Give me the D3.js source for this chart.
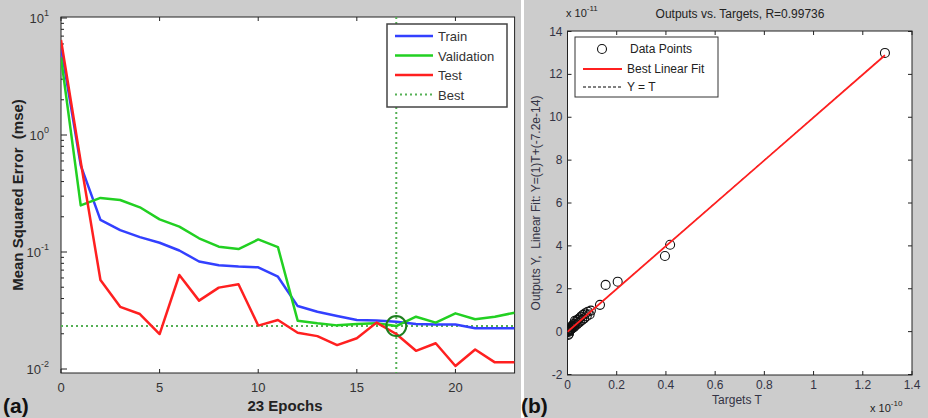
<!DOCTYPE html>
<html><head><meta charset="utf-8">
<script src="https://cdn.jsdelivr.net/npm/d3@7"></script>
<style>body{margin:0;background:#fff}svg{display:block}text{font-family:Arial,"Liberation Sans",sans-serif;white-space:pre}</style>
</head><body><svg id="c" width="928" height="418"></svg>
<script>
// ---------- Panel (a): performance ----------
const epochs = d3.range(0, 24);
const trainMSE = [5.65,0.55,0.188,0.154,0.134,0.12,0.103,0.083,0.077,0.075,0.074,0.0615,0.0345,0.0309,0.0284,0.0262,0.026,0.0254,0.0243,0.024,0.024,0.0223,0.0223,0.0223];
const valMSE   = [4.6,0.25,0.29,0.278,0.241,0.19,0.165,0.131,0.111,0.106,0.128,0.11,0.0259,0.0246,0.0236,0.0243,0.0246,0.0233,0.028,0.0249,0.0299,0.0266,0.028,0.0303];
const testMSE  = [6.5,0.59,0.0577,0.034,0.0295,0.0199,0.0636,0.0384,0.0496,0.053,0.0235,0.0262,0.0204,0.0191,0.016,0.0183,0.0249,0.0199,0.0143,0.0166,0.0106,0.0147,0.0114,0.0114];
const bestEpoch = 17, bestValue = 0.0233;
const perfXTicks = [0,5,10,15,20];
const perfYTicks = [10,1,0.1,0.01];
const perfSeries = ["Train","Validation","Test","Best"];

// ---------- Panel (b): regression ----------
// targets in units of 1e-10, outputs in units of 1e-11
const targets = [0,0.002,0.003,0.004,0.005,0.006,0.007,0.008,0.010,0.011,0.013,0.015,0.016,0.018,0.020,0.022,0.025,0.027,0.030,0.032,0.035,0.038,0.040,0.045,0.048,0.052,0.055,0.060,0.063,0.068,0.072,0.078,0.083,0.090,0.095,0.132,0.155,0.204,0.396,0.417,1.29];
const outputs = [0,0.05,-0.15,-0.02,0.08,-0.1,0.03,0.12,0.06,0.15,0.10,0.22,0.12,0.20,0.28,0.18,0.35,0.22,0.50,0.30,0.45,0.33,0.55,0.40,0.62,0.48,0.70,0.55,0.78,0.62,0.85,0.72,0.93,0.80,0.98,1.25,2.18,2.33,3.53,4.05,13.0];
const fitSlope = 1, fitIntercept = -7.2e-14;
const regXTicks = [0,0.2,0.4,0.6,0.8,1,1.2,1.4];
const regYTicks = [-2,0,2,4,6,8,10,12,14];
const regLegend = ["Data Points","Best Linear Fit","Y = T"];

const svg = d3.select("#c");
const GRAY = "#cccccc";
svg.append("rect").attr("x",0).attr("y",0).attr("width",521).attr("height",418).attr("fill",GRAY);
svg.append("rect").attr("x",524).attr("y",0).attr("width",404).attr("height",418).attr("fill",GRAY);

// ===== Panel a =====
const ax = {l:61, r:514.6, t:17, b:373};
const x1 = d3.scaleLinear().domain([0,23]).range([ax.l, ax.r]);
const y1b = d3.scaleLog().domain([0.01,10]).range([369,18]);
const yA = v => y1b(v);
const gA = svg.append("g");
gA.append("rect").attr("x",ax.l).attr("y",ax.t).attr("width",ax.r-ax.l).attr("height",ax.b-ax.t).attr("fill","#fff");
svg.append("clipPath").attr("id","clipA").append("rect").attr("x",ax.l).attr("y",ax.t).attr("width",ax.r-ax.l).attr("height",ax.b-ax.t);

perfXTicks.forEach(t=>{
  gA.append("line").attr("x1",x1(t)).attr("x2",x1(t)).attr("y1",ax.b).attr("y2",ax.b-4).attr("stroke","#222");
  gA.append("line").attr("x1",x1(t)).attr("x2",x1(t)).attr("y1",ax.t).attr("y2",ax.t+4).attr("stroke","#222");
  gA.append("text").attr("x",x1(t)).attr("y",392).attr("text-anchor","middle").attr("font-size",13).attr("fill","#333").text(t);
});
const minor = [];
for (let e=-2;e<1;e++) for (let m=2;m<10;m++) minor.push(m*Math.pow(10,e));
minor.forEach(v=>{
  gA.append("line").attr("x1",ax.l).attr("x2",ax.l+3).attr("y1",yA(v)).attr("y2",yA(v)).attr("stroke","#222");
});
perfYTicks.forEach(v=>{
  gA.append("line").attr("x1",ax.l).attr("x2",ax.l+6).attr("y1",yA(v)).attr("y2",yA(v)).attr("stroke","#222");
  const e = Math.round(Math.log10(v));
  const t = gA.append("text").attr("x",49).attr("y",yA(v)+5).attr("text-anchor","end").attr("font-size",13).attr("fill","#333");
  t.append("tspan").text("10");
  t.append("tspan").attr("dy",-7).attr("font-size",9).text(e);
});
gA.append("rect").attr("x",ax.l).attr("y",ax.t).attr("width",ax.r-ax.l).attr("height",ax.b-ax.t).attr("fill","none").attr("stroke","#222").attr("stroke-width",1);

const lineA = d3.line().x((d,i)=>x1(epochs[i])).y(d=>yA(d));
const pa = gA.append("g").attr("clip-path","url(#clipA)");
pa.append("line").attr("x1",x1(bestEpoch)).attr("x2",x1(bestEpoch)).attr("y1",ax.t).attr("y2",ax.b)
  .attr("stroke","#55b055").attr("stroke-width",2).attr("stroke-dasharray","2,3");
pa.append("line").attr("x1",ax.l).attr("x2",ax.r).attr("y1",yA(bestValue)).attr("y2",yA(bestValue))
  .attr("stroke","#55b055").attr("stroke-width",2).attr("stroke-dasharray","2,3");
const colA = {Train:"#3340ff",Validation:"#22d022",Test:"#ff2020"};
[[trainMSE,"Train"],[valMSE,"Validation"],[testMSE,"Test"]].forEach(([d,k])=>{
  pa.append("path").datum(d).attr("d",lineA).attr("fill","none").attr("stroke",colA[k]).attr("stroke-width",2.5).attr("stroke-linejoin","round");
});
pa.append("circle").attr("cx",x1(bestEpoch)).attr("cy",yA(bestValue)).attr("r",10).attr("fill","none").attr("stroke","#1f7f1f").attr("stroke-width",2);

const lgA = gA.append("g");
lgA.append("rect").attr("x",387).attr("y",24).attr("width",120).attr("height",83).attr("fill","#fff").attr("stroke","#444").attr("stroke-width",1.5);
perfSeries.forEach((s,i)=>{
  const yy = 36 + i*19.5;
  const ln = lgA.append("line").attr("x1",395).attr("x2",433).attr("y1",yy).attr("y2",yy).attr("stroke-width",2.5);
  if (s==="Best") ln.attr("stroke","#55b055").attr("stroke-width",2).attr("stroke-dasharray","2,3");
  else ln.attr("stroke",colA[s]);
  lgA.append("text").attr("x",438).attr("y",yy+5).attr("font-size",13).attr("fill","#333").text(s);
});

gA.append("text").attr("x",285).attr("y",411).attr("text-anchor","middle").attr("font-size",15).attr("font-weight","bold").attr("fill","#222").text("23 Epochs");
gA.append("text").attr("transform","translate(23,195) rotate(-90)").attr("text-anchor","middle").attr("font-size",15).attr("font-weight","bold").attr("fill","#222").text("Mean Squared Error  (mse)");
svg.append("text").attr("x",3).attr("y",413).attr("font-family","'Liberation Serif','Times New Roman',serif").attr("font-size",21).attr("font-weight","bold").attr("fill","#111").text("(a)");

// ===== Panel b =====
const bx = {l:567.5, r:912, t:31, b:375};
const x2 = d3.scaleLinear().domain([0,1.4]).range([bx.l, bx.r]);
const y2 = d3.scaleLinear().domain([-2,14]).range([374.5, 31.5]);
const gB = svg.append("g");
gB.append("rect").attr("x",bx.l).attr("y",bx.t).attr("width",bx.r-bx.l).attr("height",bx.b-bx.t).attr("fill","#fff");
svg.append("clipPath").attr("id","clipB").append("rect").attr("x",bx.l).attr("y",bx.t).attr("width",bx.r-bx.l).attr("height",bx.b-bx.t);
regXTicks.forEach(t=>{
  gB.append("line").attr("x1",x2(t)).attr("x2",x2(t)).attr("y1",bx.b).attr("y2",bx.b-4).attr("stroke","#222");
  gB.append("line").attr("x1",x2(t)).attr("x2",x2(t)).attr("y1",bx.t).attr("y2",bx.t+4).attr("stroke","#222");
  gB.append("text").attr("x",x2(t)).attr("y",389).attr("text-anchor","middle").attr("font-size",12).attr("fill","#334").text(t);
});
regYTicks.forEach(t=>{
  gB.append("line").attr("x1",bx.l).attr("x2",bx.l+4).attr("y1",y2(t)).attr("y2",y2(t)).attr("stroke","#222");
  gB.append("line").attr("x1",bx.r).attr("x2",bx.r-4).attr("y1",y2(t)).attr("y2",y2(t)).attr("stroke","#222");
  gB.append("text").attr("x",bx.l-5).attr("y",y2(t)+4).attr("text-anchor","end").attr("font-size",12).attr("fill","#334").text(t);
});
gB.append("rect").attr("x",bx.l).attr("y",bx.t).attr("width",bx.r-bx.l).attr("height",bx.b-bx.t).attr("fill","none").attr("stroke","#222").attr("stroke-width",1);

const pb = gB.append("g").attr("clip-path","url(#clipB)");
const tMax = d3.max(targets);
pb.append("line").attr("x1",x2(0)).attr("y1",y2(0)).attr("x2",x2(tMax)).attr("y2",y2(tMax*10))
  .attr("stroke","#000").attr("stroke-width",1).attr("stroke-dasharray","3,2");
pb.selectAll("circle.pt").data(targets).join("circle").attr("class","pt")
  .attr("cx",d=>x2(d)).attr("cy",(d,i)=>y2(outputs[i])).attr("r",4.5)
  .attr("fill","none").attr("stroke","#111").attr("stroke-width",1.1);
const fitY = t => (fitSlope*t*1e-10 + fitIntercept)/1e-11;
pb.append("line").attr("x1",x2(0)).attr("y1",y2(fitY(0))).attr("x2",x2(tMax)).attr("y2",y2(fitY(tMax)))
  .attr("stroke","#ff2020").attr("stroke-width",1.8);

const lgB = gB.append("g");
lgB.append("rect").attr("x",575).attr("y",37).attr("width",143).attr("height",60).attr("fill","#fff").attr("stroke","#333").attr("stroke-width",1);
lgB.append("circle").attr("cx",602).attr("cy",49).attr("r",4.5).attr("fill","none").attr("stroke","#111").attr("stroke-width",1.1);
lgB.append("line").attr("x1",583).attr("x2",622).attr("y1",69).attr("y2",69).attr("stroke","#ff2020").attr("stroke-width",1.8);
lgB.append("line").attr("x1",583).attr("x2",622).attr("y1",87).attr("y2",87).attr("stroke","#000").attr("stroke-dasharray","3,2");
[49,69,87].forEach((yy,i)=>{
  lgB.append("text").attr("x", i===0?630:627).attr("y",yy+4).attr("font-size",12).attr("fill","#222").text(regLegend[i]);
});

gB.append("text").attr("x",740).attr("y",18).attr("text-anchor","middle").attr("font-size",12).attr("fill","#222").text("Outputs vs. Targets, R=0.99736");
const e1 = gB.append("text").attr("x",566).attr("y",17).attr("font-size",11).attr("fill","#222");
e1.append("tspan").text("x 10"); e1.append("tspan").attr("dy",-6).attr("font-size",8).text("-11");
const e2 = gB.append("text").attr("x",870).attr("y",412).attr("font-size",11).attr("fill","#222");
e2.append("tspan").text("x 10"); e2.append("tspan").attr("dy",-6).attr("font-size",8).text("-10");
gB.append("text").attr("x",737).attr("y",404).attr("text-anchor","middle").attr("font-size",12).attr("fill","#334").text("Targets T");
gB.append("text").attr("transform","translate(540,203) rotate(-90)").attr("text-anchor","middle").attr("font-size",12).attr("fill","#334").text("Outputs Y,  Linear Fit: Y=(1)T+(-7.2e-14)");
svg.append("text").attr("x",521).attr("y",413).attr("font-family","'Liberation Serif','Times New Roman',serif").attr("font-size",21).attr("font-weight","bold").attr("fill","#111").text("(b)");
</script></body></html>
